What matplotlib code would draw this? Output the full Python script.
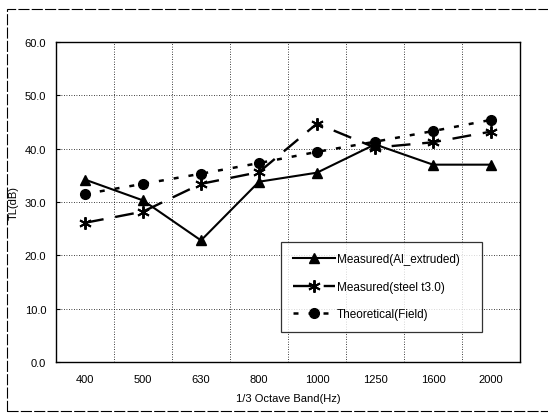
import matplotlib.pyplot as plt
from matplotlib.patches import Rectangle
import numpy as np

plt.rcParams["font.family"] = ["Liberation Sans", "DejaVu Sans"]

# ===============================
# Data
# ===============================
bands = ["400", "500", "630", "800", "1000", "1250", "1600", "2000"]
al_extruded = [34.2, 30.3, 22.8, 33.8, 35.5, 40.8, 37.0, 37.0]
steel_t30 = [26.1, 28.2, 33.4, 35.6, 44.7, 40.2, 41.2, 43.2]
theoretical = [31.5, 33.4, 35.3, 37.3, 39.4, 41.3, 43.3, 45.4]

x = np.arange(len(bands))

# ===============================
# Plot
# ===============================
fig = plt.figure(figsize=(5.48, 4.14), dpi=100)
ax = fig.add_axes([56 / 548, 51 / 414, 464 / 548, 320 / 414])

ax.plot(x, al_extruded, color="black", linewidth=1.5,
        marker="^", markersize=7, label="Measured(Al_extruded)")
ax.plot(x, steel_t30, color="black", linewidth=1.7, dashes=(8, 5),
        marker=(6, 2, 0), markersize=9, markeredgewidth=1.4,
        label="Measured(steel t3.0)")
ax.plot(x, theoretical, color="black", linewidth=1.8, dashes=(2, 4),
        marker="o", markersize=7, label="Theoretical(Field)")

ax.set_xlim(-0.5, len(bands) - 0.5)
ax.set_ylim(0, 60)
ax.set_xticks(x)
ax.set_xticklabels(bands)
ax.set_yticks(np.arange(0, 61, 10))
ax.set_yticklabels([f"{v:.1f}" for v in np.arange(0, 61, 10)])
ax.tick_params(axis="x", length=0, labelsize=8, pad=9)
ax.tick_params(axis="y", length=3, direction="in", labelsize=8, pad=7)

# grid between categories, like the spreadsheet chart
ax.set_xticks(np.arange(0.5, len(bands) - 1, 1), minor=True)
ax.tick_params(axis="x", which="minor", length=0)
ax.grid(axis="x", which="minor", color="black", linestyle=(0, (1, 2)), linewidth=0.6)
ax.grid(axis="y", which="major", color="black", linestyle=(0, (1, 2)), linewidth=0.6)

for s in ax.spines.values():
    s.set_linewidth(1.0)

ax.set_xlabel("1/3 Octave Band(Hz)", fontsize=8, labelpad=6)
ax.set_ylabel("TL(dB)", fontsize=8, labelpad=4)

leg = ax.legend(loc="lower left", bbox_to_anchor=(0.485, 0.094, 0.433, 0.294),
                mode="expand", borderaxespad=0, fontsize=8.5, frameon=True,
                fancybox=False, edgecolor="black", handlelength=3.6,
                handletextpad=0.1, labelspacing=1.3, borderpad=1.0)
leg.get_frame().set_linewidth(0.9)

# outer frame around the whole chart (open on the right)
fig.patches.append(Rectangle((7 / 548, 2 / 414), 560 / 548, 402 / 414,
                             transform=fig.transFigure, fill=False,
                             edgecolor="black", linewidth=0.8, linestyle=(0, (10, 2))))

plt.savefig("out.png", dpi=100)
